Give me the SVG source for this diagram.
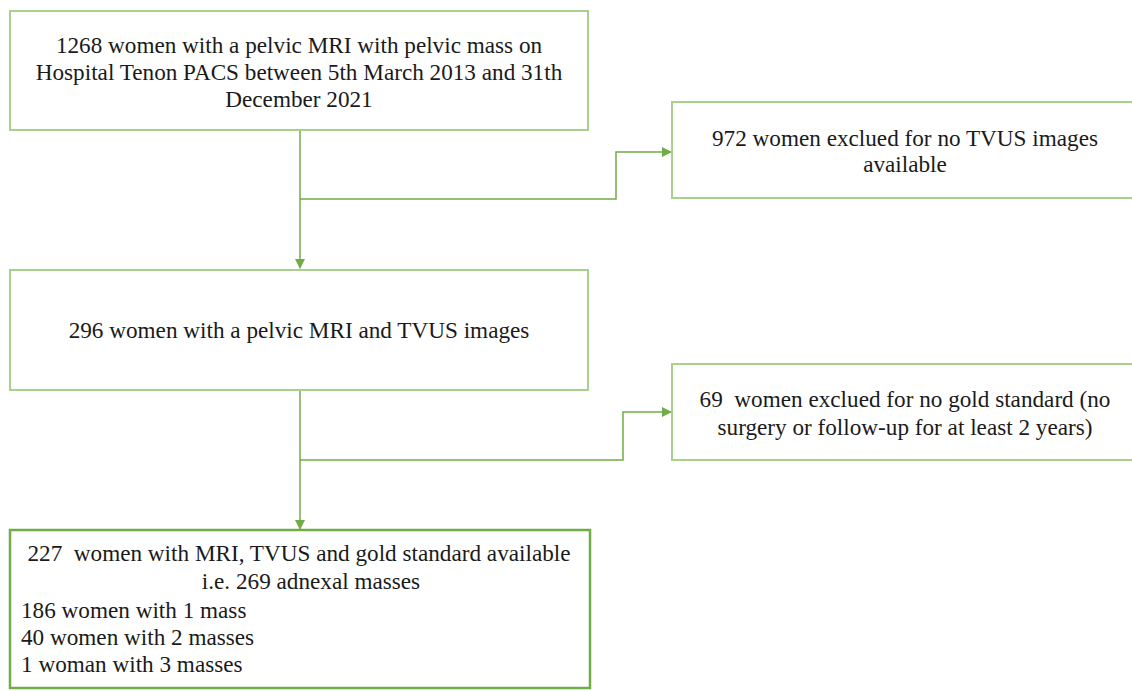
<svg xmlns="http://www.w3.org/2000/svg" width="1132" height="691" viewBox="0 0 1132 691">
<style>
.box{fill:#ffffff;stroke:#a9d18e;stroke-width:2}
.box3{fill:#ffffff;stroke:#70ad47;stroke-width:2.5}
.t{font-family:"Liberation Serif","Times New Roman",serif;font-size:23.2px;fill:#1a1a1a;white-space:pre}
.c{text-anchor:middle}
.con{fill:none;stroke:#70ad47;stroke-width:1.5}
</style>
<defs>
<marker id="ah" markerWidth="10" markerHeight="10" refX="9" refY="5" orient="auto" markerUnits="userSpaceOnUse">
<path d="M0,0 L10,5 L0,10 Z" fill="#70ad47"/>
</marker>
</defs>
<rect width="1132" height="691" fill="#ffffff"/>
<g id="connectors">
<path class="con" d="M300,130 V268" marker-end="url(#ah)"/>
<path class="con" d="M300,199 H616 V152 H671" marker-end="url(#ah)"/>
<path class="con" d="M300,390 V529" marker-end="url(#ah)"/>
<path class="con" d="M300,460 H623 V412 H671" marker-end="url(#ah)"/>
</g>
<g id="n1">
<rect class="box" x="10" y="11" width="578" height="119"/>
<text class="t c" x="299" y="53">1268 women with a pelvic MRI with pelvic mass on</text>
<text class="t c" x="299" y="80">Hospital Tenon PACS between 5th March 2013 and 31th</text>
<text class="t c" x="299" y="107">December 2021</text>
</g>
<g id="n2">
<rect class="box" x="672" y="102" width="470" height="96"/>
<text class="t c" x="905" y="146">972 women exclued for no TVUS images</text>
<text class="t c" x="905" y="172">available</text>
</g>
<g id="n3">
<rect class="box" x="10" y="270" width="578" height="120"/>
<text class="t c" x="299" y="338">296 women with a pelvic MRI and TVUS images</text>
</g>
<g id="n4">
<rect class="box" x="672" y="364" width="470" height="96"/>
<text class="t c" x="905" y="407" xml:space="preserve">69  women exclued for no gold standard (no</text>
<text class="t c" x="905" y="435">surgery or follow-up for at least 2 years)</text>
</g>
<g id="n5">
<rect class="box3" x="10" y="530" width="580" height="158"/>
<text class="t c" x="299" y="561" xml:space="preserve">227  women with MRI, TVUS and gold standard available</text>
<text class="t c" x="311" y="589">i.e. 269 adnexal masses</text>
<text class="t" x="21" y="618">186 women with 1 mass</text>
<text class="t" x="21" y="645">40 women with 2 masses</text>
<text class="t" x="21" y="672">1 woman with 3 masses</text>
</g>
</svg>
